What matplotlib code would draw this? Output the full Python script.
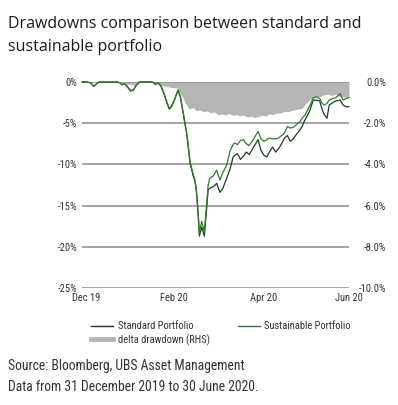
import matplotlib.pyplot as plt
from matplotlib import font_manager
from matplotlib.font_manager import FontProperties
from matplotlib.lines import Line2D

# days since 31 Dec 2019
days = [0, 3, 6, 8, 10, 12, 16, 20, 24, 26, 27, 29, 31, 33, 35, 37, 39, 44, 48, 50,
        52, 54, 56, 58, 59.5, 61, 63, 65.5, 67, 69, 70, 71.4, 72.5, 73.6, 75.8, 77, 78,
        79.3, 80, 81.6, 83.4, 86, 87, 89.5, 91.8, 94, 96, 98.6, 101, 103, 104, 106, 108,
        110, 112, 114, 116, 118, 120, 122, 124, 126, 128, 130, 132, 134, 136, 138, 140,
        142, 144, 146, 148.6, 150, 152, 155, 157.6, 160, 162, 163.8, 165, 167, 168.5,
        171, 173, 176, 178, 180, 182]
standard = [0, 0, -0.1, -0.55, -0.2, 0, 0, -0.05, 0, -0.1, -0.35, -0.2, -0.6, -1.1, -1.0,
            -0.4, 0, 0, 0, -0.3, -0.1, -0.6, -1.5, -2.6, -3.3, -3.0, -2.2, -1.0, -1.8, -3.8,
            -4.9, -6.3, -8.0, -9.8, -11.4, -12.0, -13.3, -16.5, -18.7, -17.6, -18.7, -13.1,
            -12.9, -12.7, -12.3, -13.4, -12.9, -11.7, -10.5, -9.1, -8.9, -8.7, -9.4, -9.0,
            -8.5, -8.8, -8.2, -7.6, -7.0, -8.3, -8.9, -9.1, -8.4, -7.9, -8.5, -8.1, -7.5,
            -6.8, -6.5, -7.2, -6.9, -6.4, -5.8, -5.4, -4.6, -3.6, -2.2, -2.2, -2.3, -3.4,
            -3.9, -4.4, -2.8, -2.5, -2.3, -2.2, -2.8, -3.0, -3.0]
sustainable = [0, 0, -0.1, -0.5, -0.2, 0, 0, 0, 0, -0.1, -0.3, -0.2, -0.55, -1.0, -0.95,
               -0.4, 0, 0, 0, -0.25, -0.1, -0.5, -1.4, -2.5, -3.2, -2.9, -2.1, -0.95, -1.7,
               -3.7, -4.8, -6.2, -7.9, -9.6, -11.2, -11.9, -13.1, -16.2, -18.3, -16.9, -18.2,
               -12.5, -11.7, -11.4, -10.7, -11.9, -11.0, -10.1, -8.3, -7.6, -7.4, -7.6, -7.1,
               -7.0, -7.5, -7.7, -7.2, -6.6, -6.0, -6.9, -7.2, -7.0, -6.8, -6.9, -6.9, -6.8,
               -6.5, -6.2, -5.4, -5.6, -5.5, -5.2, -4.8, -4.4, -4.0, -3.0, -1.9, -1.8, -2.0,
               -2.6, -2.8, -2.6, -2.2, -2.0, -1.9, -1.4, -2.2, -2.0, -1.9]

delta_days = [0, 28, 30, 33, 36, 40, 50, 53, 60, 65, 67, 69, 71, 73, 76, 78, 80, 83, 85,
              88, 90, 93, 95, 98, 100, 103, 105, 108, 110, 113, 115, 118, 120, 123, 125,
              128, 130, 133, 135, 138, 140, 143, 145, 148, 150, 152, 154, 156, 158, 160,
              163, 165, 168, 170, 173, 175, 178, 182]
delta = [0, 0, -0.15, -0.1, -0.2, 0, 0, -0.15, -0.25, -0.3, -0.55, -0.8, -1.1, -1.3,
         -1.25, -1.4, -1.35, -1.45, -1.4, -1.5, -1.45, -1.6, -1.55, -1.6, -1.52, -1.62,
         -1.58, -1.65, -1.6, -1.7, -1.66, -1.72, -1.68, -1.62, -1.65, -1.55, -1.58, -1.5,
         -1.52, -1.42, -1.45, -1.38, -1.35, -1.3, -1.28, -1.1, -0.95, -0.8, -0.78, -0.72,
         -0.7, -0.62, -0.6, -0.65, -0.6, -0.7, -0.72, -0.75]

left_ticks = [0, -5, -10, -15, -20, -25]
left_labels = ["0%", "-5%", "-10%", "-15%", "-20%", "-25%"]
right_ticks = [0, -2, -4, -6, -8, -10]
right_labels = ["0.0%", "-2.0%", "-4.0%", "-6.0%", "-8.0%", "-10.0%"]
x_ticks = [3, 63, 124, 182]
x_labels = ["Dec 19", "Feb 20", "Apr 20", "Jun 20"]

# fonts: pick a regular condensed face for labels, regular Open Sans for the title
bad = ("bold", "light", "italic", "semi", "extra", "medium", "thin", "black", "oblique", "mono")


def regular_files(test):
    out = []
    for f in font_manager.fontManager.ttflist:
        low = (f.name + " " + f.fname.split("/")[-1]).lower()
        if f.style == "normal" and f.weight in (400, "normal", "regular") \
                and not any(b in low for b in bad) and test(f, low):
            out.append((f.name, f.fname))
    return sorted(out)


cond = regular_files(lambda f, low: "condensed" in low or "narrow" in low)
order = ["open sans", "noto sans", "liberation", "roboto", "lato"]
cond.sort(key=lambda x: next((i for i, o in enumerate(order) if o in x[0].lower()), 99))
if cond:
    narrow_prop = FontProperties(fname=cond[0][1])
else:
    narrow_prop = FontProperties(family="Roboto")
titles = regular_files(lambda f, low: f.name == "Open Sans" and "condensed" not in low)
title_prop = FontProperties(fname=titles[0][1]) if titles else FontProperties(family="DejaVu Sans")
txt = "#333333"

fig = plt.figure(figsize=(3.98, 4.05), dpi=100)
renderer = fig.canvas.get_renderer()


def size_for(s, prop, width_px):
    t = fig.text(0, 0, s, fontproperties=prop, fontsize=10)
    w = t.get_window_extent(renderer=renderer).width
    t.remove()
    return 10 * width_px / w


fs = size_for("Sustainable Portfolio", narrow_prop, 87)
lab = narrow_prop.copy()
lab.set_size(fs)

ax = fig.add_axes([82 / 398, 1 - 288 / 405, 267 / 398, 206 / 405])
ax2 = ax.twinx()

# gray area on the right axis, behind the lines
ax2.fill_between(delta_days, delta, 0, color="#b5b5b5", linewidth=0)
ax2.set_ylim(-10, 0)
ax2.set_yticks(right_ticks)
ax2.set_yticklabels(right_labels, fontproperties=lab, color=txt, ha="right")
ax2.tick_params(axis="y", length=0, pad=27)

ax.set_zorder(ax2.get_zorder() + 1)
ax.patch.set_visible(False)
for y in left_ticks:
    ax.axhline(y, color="#8c8c8c", linewidth=1.1, zorder=1)
ax.plot(days, standard, color="#1f3a1f", linewidth=0.9, clip_on=False, zorder=3)
ax.plot(days, sustainable, color="#2f7d2a", linewidth=0.9, clip_on=False, zorder=3)
ax.set_xlim(0, 182)
ax.set_ylim(-25, 0)
ax.set_yticks(left_ticks)
ax.set_yticklabels(left_labels, fontproperties=lab, color=txt)
ax.set_xticks(x_ticks)
ax.set_xticklabels(x_labels, fontproperties=lab, color=txt)
ax.tick_params(length=0, pad=3.5)

for a in (ax, ax2):
    for s in a.spines.values():
        s.set_visible(False)

handles = [Line2D([], [], color="#1f3a1f", linewidth=1.0),
           Line2D([], [], color="#b5b5b5", linewidth=3.5),
           Line2D([], [], color="#2f7d2a", linewidth=1.0)]
labels = ["Standard Portfolio", "delta drawdown (RHS)", "Sustainable Portfolio"]
leg = fig.legend(handles, labels, ncol=2, loc="upper left",
                 bbox_to_anchor=(84 / 398, 1 - 314 / 405), frameon=False, prop=lab,
                 handlelength=2.1, handletextpad=0.4, columnspacing=2.7,
                 labelspacing=0.25, borderpad=0.2)
for t in leg.get_texts():
    t.set_color(txt)

ts = size_for("Drawdowns comparison between standard and", title_prop, 354)
fig.text(8 / 398, 1 - 28 / 405, "Drawdowns comparison between standard and",
         fontproperties=title_prop, fontsize=ts, color="#1c1c1c", va="baseline")
fig.text(8 / 398, 1 - 51 / 405, "sustainable portfolio", fontproperties=title_prop,
         fontsize=ts, color="#1c1c1c", va="baseline")
ss = size_for("Source: Bloomberg, UBS Asset Management", narrow_prop, 237)
fig.text(8 / 398, 1 - 370 / 405, "Source: Bloomberg, UBS Asset Management",
         fontproperties=narrow_prop, fontsize=ss, color=txt, va="baseline")
fig.text(8 / 398, 1 - 391 / 405, "Data from 31 December 2019 to 30 June 2020.",
         fontproperties=narrow_prop, fontsize=ss, color=txt, va="baseline")

fig.savefig("out.png", dpi=100, facecolor="white")
